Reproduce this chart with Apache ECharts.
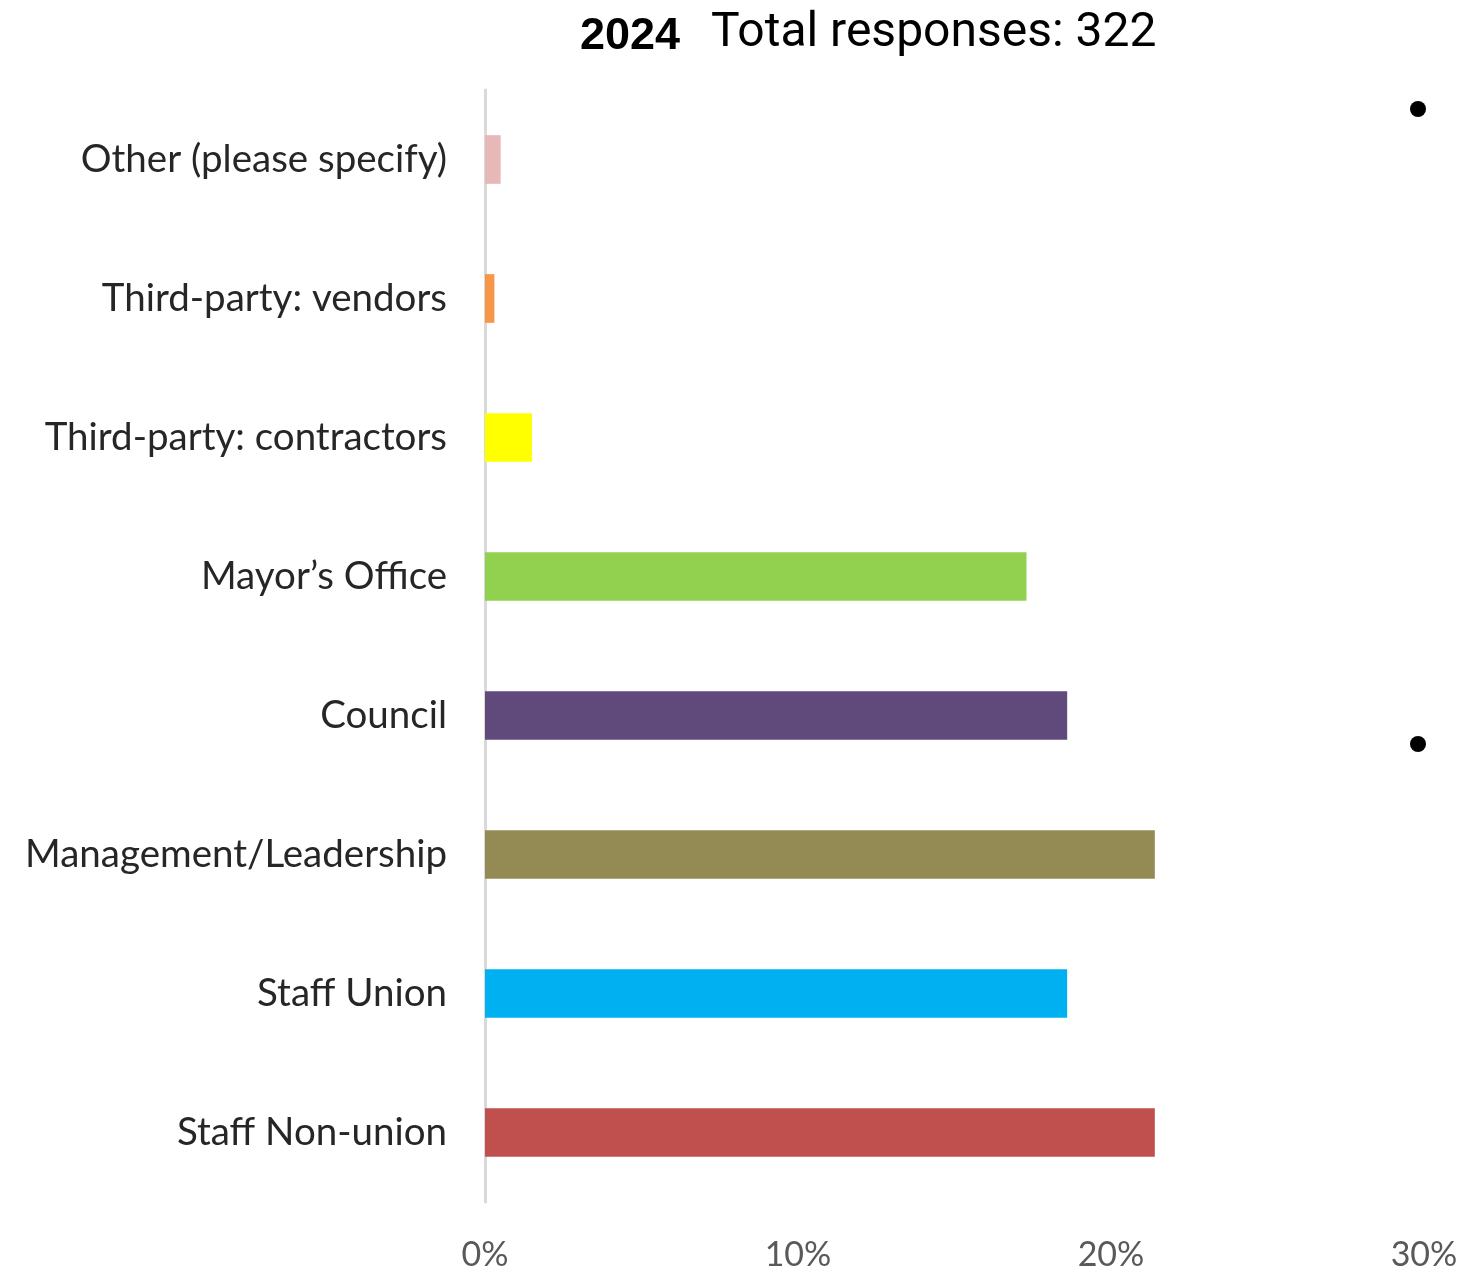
<!DOCTYPE html>
<html>
<head>
<meta charset="utf-8">
<style>
  html, body { margin: 0; padding: 0; background: #ffffff; }
  #chart { width: 1461px; height: 1274px; }
</style>
<script src="https://cdn.jsdelivr.net/npm/echarts@6/dist/echarts.min.js"></script>
</head>
<body>
<div id="chart"></div>
<script>
// Respondent groups, listed bottom to top as drawn on the category axis
const categories = [
  'Staff Non-union',
  'Staff Union',
  'Management/Leadership',
  'Council',
  'Mayor\u2019s Office',
  'Third-party: contractors',
  'Third-party: vendors',
  'Other (please specify)'
];
// Share of responses, in percent
const shares = [21.4, 18.6, 21.4, 18.6, 17.3, 1.5, 0.3, 0.5];
const barColors = ['#c0504d', '#00b0f0', '#948a54', '#604a7b', '#92d050', '#ffff00', '#f79646', '#e6b9b8'];
const axisTicks = [0, 10, 20, 30];
const yearLabel = '2024';
const totalLabel = 'Total responses: 322';

const chart = echarts.init(document.getElementById('chart'), null, { renderer: 'canvas' });

chart.setOption({
  backgroundColor: '#ffffff',
  animation: false,
  grid: { left: 485, right: 37, top: 90, bottom: 72, containLabel: false },
  xAxis: {
    type: 'value',
    min: axisTicks[0],
    max: axisTicks[axisTicks.length - 1],
    interval: 10,
    axisLine: { show: false },
    axisTick: { show: false },
    splitLine: { show: false },
    axisLabel: {
      formatter: '{value}%',
      fontFamily: 'Lato',
      fontSize: 34,
      color: '#595959',
      margin: 36
    }
  },
  yAxis: {
    type: 'category',
    data: categories,
    axisLine: { show: true, lineStyle: { color: '#d9d9d9', width: 3 } },
    axisTick: { show: false },
    axisLabel: {
      fontFamily: 'Lato',
      fontSize: 38.5,
      color: '#262626',
      margin: 38,
      padding: [4, 0, 0, 0]
    }
  },
  series: [{
    type: 'bar',
    data: shares.map((v, i) => ({ value: v, itemStyle: { color: barColors[i] } })),
    barCategoryGap: '65%',
    silent: true
  }],
  graphic: [
    {
      type: 'text', left: 580, top: 14,
      style: { text: yearLabel, font: 'bold 45px "Liberation Sans"', fill: '#000000' }
    },
    {
      type: 'text', left: 711, top: 10,
      style: { text: totalLabel, font: 'normal 48px Roboto', fill: '#000000' }
    },
    { type: 'circle', shape: { cx: 1418, cy: 109, r: 8 }, style: { fill: '#000000' } },
    { type: 'circle', shape: { cx: 1418, cy: 744, r: 8 }, style: { fill: '#000000' } }
  ]
});
</script>
</body>
</html>
